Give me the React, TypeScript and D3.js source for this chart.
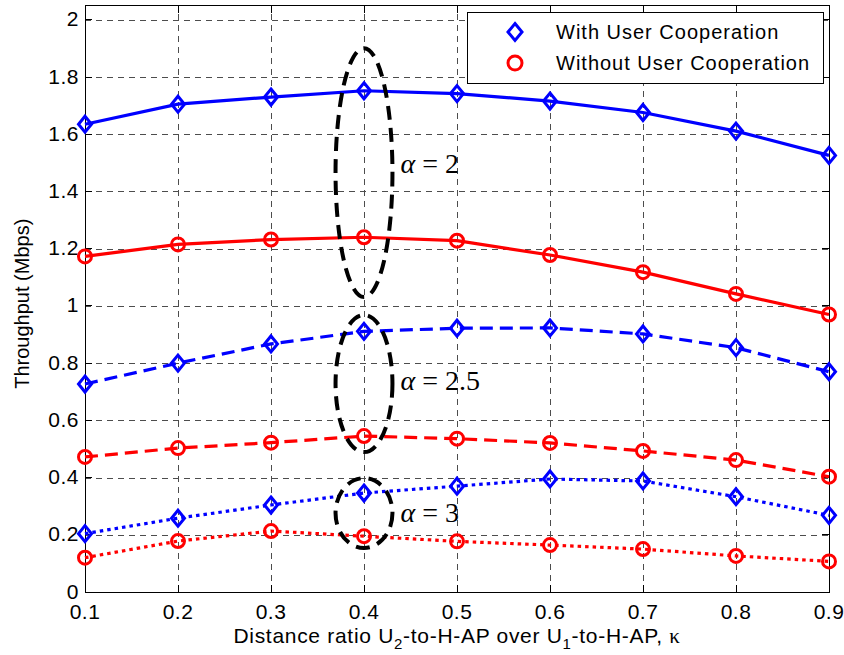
import React, { useEffect, useRef } from "react";
import * as d3 from "d3";

// distance ratio kappa
const kappa = [0.1, 0.2, 0.3, 0.4, 0.5, 0.6, 0.7, 0.8, 0.9];

// throughput (Mbps), alpha = 2 / 2.5 / 3
const coopA2 = [1.635, 1.705, 1.73, 1.752, 1.742, 1.716, 1.676, 1.611, 1.526];
const noCoopA2 = [1.173, 1.215, 1.232, 1.24, 1.228, 1.178, 1.118, 1.042, 0.97];
const coopA25 = [0.727, 0.8, 0.867, 0.911, 0.922, 0.923, 0.902, 0.854, 0.77];
const noCoopA25 = [0.472, 0.503, 0.522, 0.545, 0.536, 0.521, 0.493, 0.461, 0.403];
const coopA3 = [0.204, 0.258, 0.304, 0.346, 0.37, 0.395, 0.388, 0.333, 0.268];
const noCoopA3 = [0.12, 0.178, 0.213, 0.195, 0.177, 0.164, 0.15, 0.126, 0.107];

const xTicks = [0.1, 0.2, 0.3, 0.4, 0.5, 0.6, 0.7, 0.8, 0.9];
const yTicks = [0, 0.2, 0.4, 0.6, 0.8, 1, 1.2, 1.4, 1.6, 1.8, 2];

const legendLabels = ["With User Cooperation", "Without User Cooperation"];

// annotation ellipses: kappa centre, low / high value, label
const groups = [
  { k: 0.4, lo: 1.031, hi: 1.901, label: "2", ly: 1.465 },
  { k: 0.4, lo: 0.489, hi: 0.968, label: "2.5", ly: 0.706 },
  { k: 0.4, lo: 0.154, hi: 0.398, label: "3", ly: 0.245 },
];

const W = 844;
const H = 655;
const SANS = "'Liberation Sans', Arial, Helvetica, sans-serif";
const SERIF = "'Liberation Serif', 'Times New Roman', serif";

const diamond = (w, h) => `M0,${-h}L${w},0L0,${h}L${-w},0Z`;

const App = () => {
  const ref = useRef(null);

  useEffect(() => {
    const svg = d3.select(ref.current);
    svg.selectAll("*").remove();

    const x = d3.scaleLinear().domain([0.1, 0.9]).range([85, 829]);
    const y = d3.scaleLinear().domain([0, 2.05]).range([592, 5.5]);
    const [x0, x1] = x.range();
    const [y0, y1] = y.range();

    svg.append("rect").attr("width", W).attr("height", H).attr("fill", "white");

    // grid
    const grid = svg.append("g").attr("stroke", "#4d4d4d").attr("stroke-width", 1)
      .attr("stroke-dasharray", "6,5").attr("shape-rendering", "crispEdges");
    grid.selectAll("line.gx").data(xTicks.slice(1, -1)).enter().append("line")
      .attr("x1", d => Math.round(x(d)) + 0.5).attr("x2", d => Math.round(x(d)) + 0.5)
      .attr("y1", y0).attr("y2", y1);
    grid.selectAll("line.gy").data(yTicks.slice(1)).enter().append("line")
      .attr("y1", d => Math.round(y(d)) + 0.5).attr("y2", d => Math.round(y(d)) + 0.5)
      .attr("x1", x0).attr("x2", x1);

    // axes box + inward ticks
    const ax = svg.append("g").attr("stroke", "black").attr("stroke-width", 1)
      .attr("shape-rendering", "crispEdges");
    ax.append("rect").attr("x", x0).attr("y", y1).attr("width", x1 - x0)
      .attr("height", y0 - y1).attr("fill", "none");
    const tl = 7;
    xTicks.forEach(t => {
      ax.append("line").attr("x1", x(t)).attr("x2", x(t)).attr("y1", y0).attr("y2", y0 - tl);
      ax.append("line").attr("x1", x(t)).attr("x2", x(t)).attr("y1", y1).attr("y2", y1 + tl);
    });
    yTicks.forEach(t => {
      ax.append("line").attr("y1", y(t)).attr("y2", y(t)).attr("x1", x0).attr("x2", x0 + tl);
      ax.append("line").attr("y1", y(t)).attr("y2", y(t)).attr("x1", x1).attr("x2", x1 - tl);
    });

    // tick labels
    const fmt = d => String(+d.toFixed(1));
    svg.append("g").selectAll("text").data(xTicks).enter().append("text")
      .attr("x", d => x(d)).attr("y", 619).attr("text-anchor", "middle")
      .style("font-family", SANS).style("font-size", "21px").style("letter-spacing", "0.5px")
      .text(fmt);
    svg.append("g").selectAll("text").data(yTicks).enter().append("text")
      .attr("x", x0 - 6).attr("y", d => y(d) - 1).attr("dy", "0.36em").attr("text-anchor", "end")
      .style("font-family", SANS).style("font-size", "21px").style("letter-spacing", "0.5px")
      .text(fmt);

    // axis labels
    const xl = svg.append("text").attr("x", (x0 + x1) / 2).attr("y", 643)
      .attr("text-anchor", "middle").style("font-family", SANS).style("font-size", "21px")
      .style("letter-spacing", "0.7px");
    xl.append("tspan").text("Distance ratio U");
    xl.append("tspan").attr("dy", 6).style("font-size", "15px").text("2");
    xl.append("tspan").attr("dy", -6).text("-to-H-AP over U");
    xl.append("tspan").attr("dy", 6).style("font-size", "15px").text("1");
    xl.append("tspan").attr("dy", -6).text("-to-H-AP, ");
    xl.append("tspan").style("font-family", SERIF).text("\u03ba");

    svg.append("text").attr("transform", `translate(29,${(y0 + y1) / 2 + 5}) rotate(-90)`)
      .attr("text-anchor", "middle").style("font-family", SANS).style("font-size", "20px")
      .text("Throughput (Mbps)");

    // series
    const series = [
      { v: coopA2, c: "#0000ff", dash: null, m: "d" },
      { v: noCoopA2, c: "#ff0000", dash: null, m: "o" },
      { v: coopA25, c: "#0000ff", dash: "13,7", m: "d" },
      { v: noCoopA25, c: "#ff0000", dash: "13,7", m: "o" },
      { v: coopA3, c: "#0000ff", dash: "3.5,4", m: "d" },
      { v: noCoopA3, c: "#ff0000", dash: "3.5,4", m: "o" },
    ];
    const line = d3.line().x((d, i) => x(kappa[i])).y(d => y(d));
    const plot = svg.append("g");
    series.forEach(s => {
      plot.append("path").attr("d", line(s.v)).attr("fill", "none")
        .attr("stroke", s.c).attr("stroke-width", 3.2)
        .attr("stroke-dasharray", s.dash);
      const pts = plot.append("g").selectAll("g").data(s.v).enter().append("g")
        .attr("transform", (d, i) => `translate(${x(kappa[i])},${y(d)})`);
      if (s.m === "d") {
        pts.append("path").attr("d", diamond(6.5, 8)).attr("fill", "none")
          .attr("stroke", s.c).attr("stroke-width", 3);
      } else {
        pts.append("circle").attr("r", 6.5).attr("fill", "none")
          .attr("stroke", s.c).attr("stroke-width", 3);
      }
    });

    // ellipses + alpha labels
    const rx = x(0.4306) - x(0.4);
    groups.forEach(g => {
      svg.append("ellipse").attr("cx", x(g.k)).attr("cy", (y(g.lo) + y(g.hi)) / 2)
        .attr("rx", rx).attr("ry", (y(g.lo) - y(g.hi)) / 2)
        .attr("fill", "none").attr("stroke", "black").attr("stroke-width", 4)
        .attr("stroke-dasharray", "14,8");
      const t = svg.append("text").attr("x", x(g.k) + rx + 8).attr("y", y(g.ly))
        .style("font-family", SERIF).style("font-size", "28px");
      t.append("tspan").style("font-style", "italic").text("\u03b1");
      t.append("tspan").text(` = ${g.label}`);
    });

    // legend
    const lg = svg.append("g");
    lg.append("rect").attr("x", 467).attr("y", 12).attr("width", 356).attr("height", 71)
      .attr("fill", "white").attr("stroke", "black").attr("stroke-width", 1)
      .attr("shape-rendering", "crispEdges");
    legendLabels.forEach((lab, i) => {
      const cy = 32 + i * 31;
      if (i === 0) {
        lg.append("path").attr("transform", `translate(515,${cy})`).attr("d", diamond(7, 8.5))
          .attr("fill", "none").attr("stroke", "#0000ff").attr("stroke-width", 3);
      } else {
        lg.append("circle").attr("cx", 515).attr("cy", cy).attr("r", 7)
          .attr("fill", "none").attr("stroke", "#ff0000").attr("stroke-width", 3);
      }
      lg.append("text").attr("x", 556).attr("y", cy).attr("dy", "0.36em")
        .style("font-family", SANS).style("font-size", "20px").style("letter-spacing", "1px")
        .text(lab);
    });
  }, []);

  return (
    <svg ref={ref} width={W} height={H}
      style={{ position: "absolute", left: 0, top: 0, display: "block" }} />
  );
};

export default App;
